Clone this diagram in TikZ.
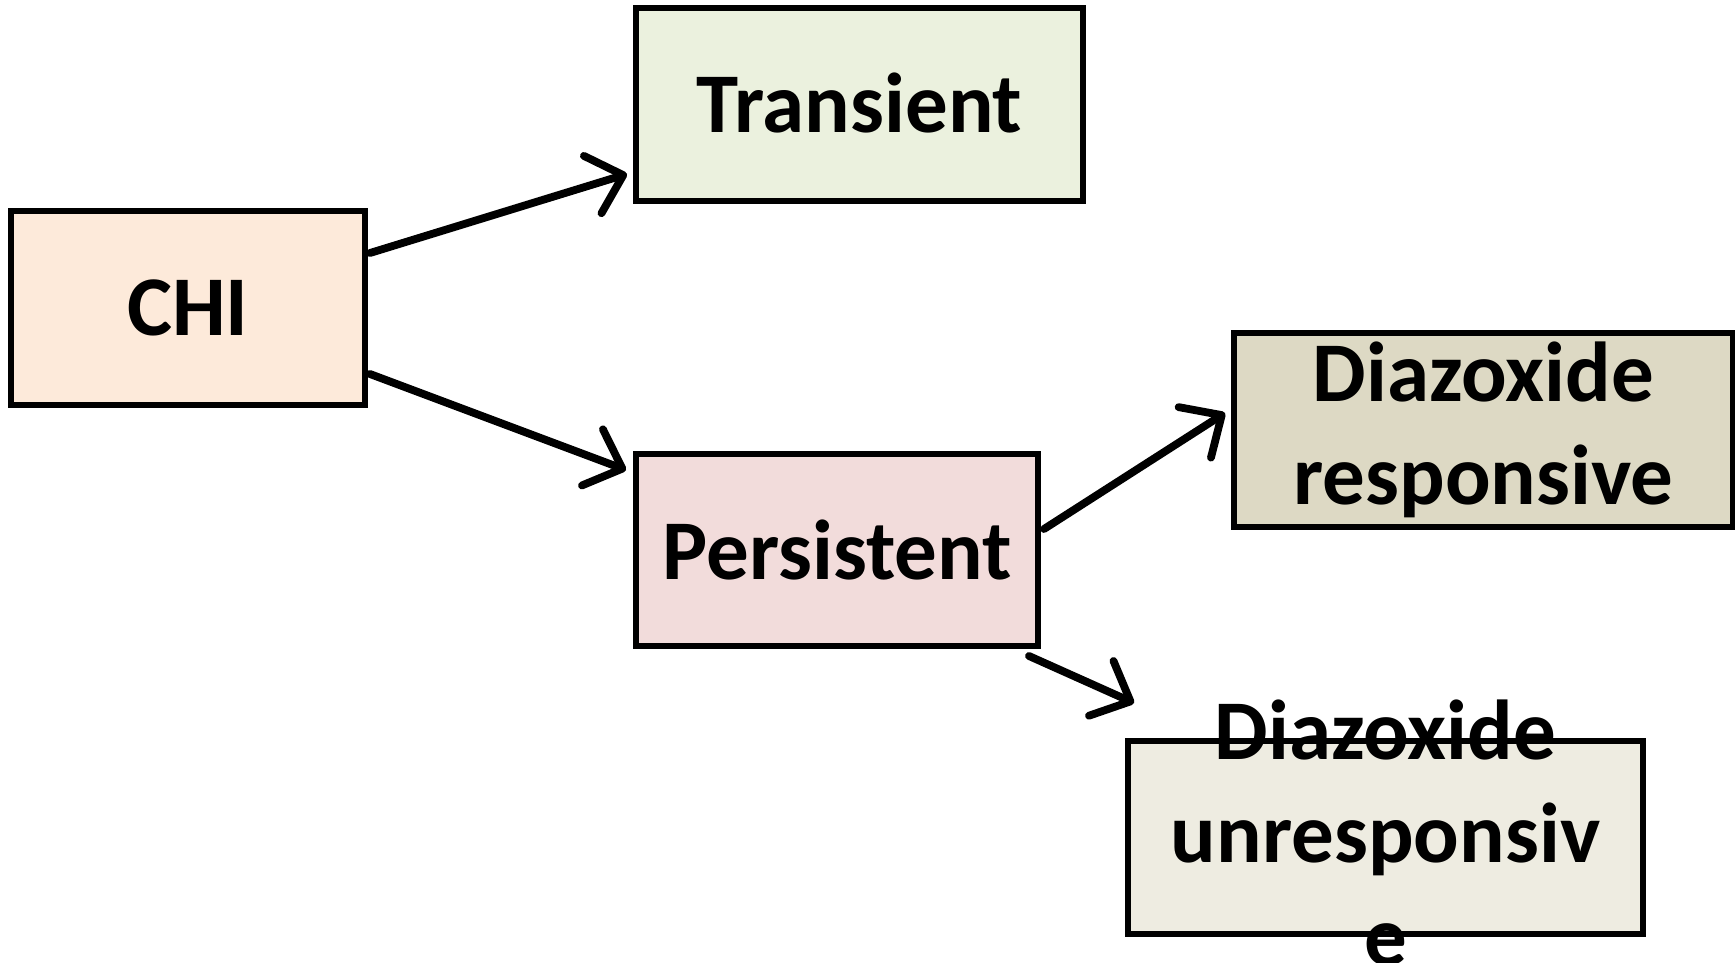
\documentclass[tikz,border=0pt]{standalone}
\usepackage{fontspec}
\setmainfont{Carlito}
\usetikzlibrary{arrows.meta}
\definecolor{chiC}{HTML}{FDEADA}
\definecolor{tranC}{HTML}{EBF1DE}
\definecolor{persC}{HTML}{F2DCDB}
\definecolor{respC}{HTML}{DDD9C4}
\definecolor{unrC}{HTML}{EEECE1}
\begin{document}
\begin{tikzpicture}[x=0.5pt,y=-0.5pt,
  txt/.style={font=\fontsize{42.5}{51.5}\selectfont\bfseries, align=center},
  box/.style={draw=black, line width=3pt, rectangle, inner sep=0pt, txt},
  conn/.style={line width=3.9pt, line cap=round, line join=round,
    -{Straight Barb[length=16pt,width=30pt,line width=3.9pt,round]}}]
\useasboundingbox (0,0) rectangle (1735,963);
\node[box, fill=chiC, minimum width=177pt, minimum height=97pt] (chi) at (188,308) {CHI};
\node[box, fill=tranC, minimum width=223.5pt, minimum height=96.5pt] (tran) at (859.5,104.5) {\raisebox{2pt}{Transient}};
\node[box, fill=persC, minimum width=201pt, minimum height=96pt] (pers) at (837,550) {Persistent};
\node[box, fill=respC, minimum width=249.5pt, minimum height=97pt] (resp) at (1483.5,430) {Diazoxide\\responsive};
\node[box, fill=unrC, minimum width=257.5pt, minimum height=96.5pt] (unr) at (1385.5,837.5) {};
\node[txt] (unrtext) at (1385.5,833) {Diazoxide\\unresponsiv\\e};
\coordinate (a1s) at ([xshift=1pt,yshift=27.5pt]chi.east);
\coordinate (a1e) at ([xshift=-3pt,yshift=-34.75pt]tran.west);
\coordinate (a2s) at ([xshift=1pt,yshift=-33pt]chi.east);
\coordinate (a2e) at ([xshift=-3.5pt,yshift=40pt]pers.west);
\coordinate (a3s) at ([xshift=1.5pt,yshift=10.5pt]pers.east);
\coordinate (a3e) at ([xshift=-3pt,yshift=8.5pt]resp.west);
\coordinate (a4s) at ([xshift=-6pt,yshift=-3.5pt]pers.south east);
\coordinate (a4e) at ([xshift=4.5pt,yshift=17.5pt]unr.north west);
\draw[conn] (a1s) -- (a1e);
\draw[conn] (a2s) -- (a2e);
\draw[conn] (a3s) -- (a3e);
\draw[conn] (a4s) -- (a4e);
\end{tikzpicture}
\end{document}
